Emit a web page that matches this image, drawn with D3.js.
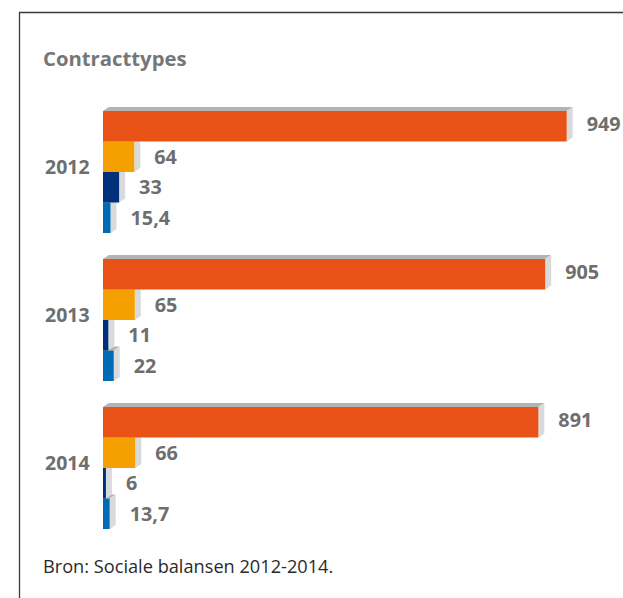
<!DOCTYPE html>
<html>
<head>
<meta charset="utf-8">
<script src="https://cdn.jsdelivr.net/npm/d3@7"></script>
<style>
  html, body { margin: 0; padding: 0; background: #fff; }
  svg { display: block; }
</style>
</head>
<body>
<svg id="chart" width="623" height="598"></svg>
<script>
// ---- data ----
const years = ["2012", "2013", "2014"];
const types = ["type1", "type2", "type3", "type4"];
const values2012 = [949, 64, 33, 15.4];
const values2013 = [905, 65, 11, 22];
const values2014 = [891, 66, 6, 13.7];
const seriesValues = [values2012, values2013, values2014];
const title = "Contracttypes";
const caption = "Bron: Sociale balansen 2012-2014.";

// ---- styles ----
const colors = ["#e85217", "#f59f00", "#00307a", "#006bb5"];
const topFace = "#b3b3b3";
const sideFace = "#d9dadb";
const labelColor = "#6e6e6e";
const dx = 6, dy = 4;

const svg = d3.select("#chart");

// frame
svg.append("path")
  .attr("d", "M19.5,598 L19.5,12.5 L623,12.5")
  .attr("fill", "none")
  .attr("stroke", "#3a3a3a")
  .attr("stroke-width", 1.3);

// title
svg.append("text")
  .attr("x", 43).attr("y", 66)
  .attr("font-family", "'Open Sans', sans-serif")
  .attr("font-weight", 700)
  .attr("font-size", 20.3)
  .attr("fill", "#767676")
  .text(title);

const x = d3.scaleLinear().domain([0, 949]).range([103, 566.7]);
const y = d3.scaleBand().domain(years).range([111, 529]).paddingInner(26 / 148).paddingOuter(0);
const yi = d3.scaleBand().domain(types).range([0, y.bandwidth()]).padding(0);

const locale = d3.formatLocale({ decimal: ",", thousands: ".", grouping: [3], currency: ["€", ""] });
const fmt = v => Number.isInteger(v) ? locale.format("d")(v) : locale.format(".1f")(v);

years.forEach((yr, gi) => {
  const g = svg.append("g").attr("transform", `translate(0,${y(yr)})`);
  const rows = types.map((t, i) => ({ t, i, v: seriesValues[gi][i] }));
  // draw bottom bars first so upper bars cover their top faces
  const bars = g.selectAll("g.bar").data(rows.slice().reverse()).join("g").attr("class", "bar");
  bars.each(function(d) {
    const b = d3.select(this);
    const x0 = x(0), x1 = x(d.v), y0 = yi(d.t), y1 = y0 + yi.bandwidth();
    b.append("path")
      .attr("d", `M${x0},${y0} L${x0 + dx},${y0 - dy} L${x1 + dx},${y0 - dy} L${x1},${y0} Z`)
      .attr("fill", topFace);
    b.append("path")
      .attr("d", `M${x1},${y0} L${x1 + dx},${y0 - dy} L${x1 + dx},${y1 - dy} L${x1},${y1} Z`)
      .attr("fill", sideFace);
    b.append("rect")
      .attr("x", x0).attr("y", y0)
      .attr("width", x1 - x0).attr("height", yi.bandwidth())
      .attr("fill", colors[d.i]);
  });
  // value labels
  g.selectAll("text.val").data(rows).join("text")
    .attr("class", "val")
    .attr("x", d => x(d.v) + 20)
    .attr("y", d => yi(d.t) + yi.bandwidth() / 2 - (d.i === 0 ? 2 : 0))
    .attr("dy", "0.35em")
    .attr("font-family", "'Open Sans', sans-serif")
    .attr("font-weight", 700)
    .attr("font-size", 19.8)
    .attr("fill", labelColor)
    .text(d => fmt(d.v));
  // year label
  g.append("text")
    .attr("x", 45)
    .attr("y", y.bandwidth() / 2 - 5)
    .attr("dy", "0.35em")
    .attr("font-family", "'Open Sans', sans-serif")
    .attr("font-weight", 700)
    .attr("font-size", 19.5)
    .attr("fill", labelColor)
    .text(yr);
});

// caption
svg.append("text")
  .attr("x", 43).attr("y", 573)
  .attr("font-family", "'Open Sans', sans-serif")
  .attr("font-size", 18.2)
  .attr("fill", "#2a2a2a")
  .text(caption);
</script>
</body>
</html>
